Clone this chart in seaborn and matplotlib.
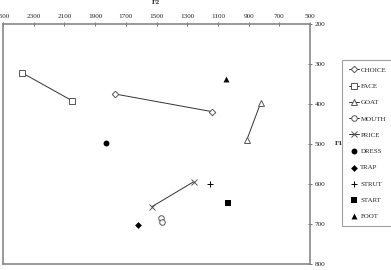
import matplotlib
matplotlib.use("Agg")
import matplotlib.pyplot as plt
import seaborn as sns
import pandas as pd

sns.set_theme(style="white")
plt.rcParams['font.family'] = ['Liberation Serif', 'DejaVu Serif']

# Diphthongs: (F2 start, F2 end), (F1 start, F1 end)
diph_names = ["CHOICE", "FACE", "GOAT", "MOUTH", "PRICE"]
diph_f2 = [[1770, 1140], [2376, 2049], [821, 912], [1471, 1462], [1531, 1256]]
diph_f1 = [[375, 419], [322, 392], [397, 490], [686, 696], [657, 594]]

mono_names = ["DRESS", "TRAP", "STRUT", "START", "FOOT"]
mono_f2 = [1831, 1623, 1151, 1032, 1045]
mono_f1 = [498, 702, 601, 647, 338]

f2_ticks = [2500, 2300, 2100, 1900, 1700, 1500, 1300, 1100, 900, 700, 500]
f1_ticks = [200, 300, 400, 500, 600, 700, 800]

diph_markers = ["D", "s", "^", "o", "x"]
mono_markers = ["o", "D", "+", "s", "^"]
mono_sizes = [18, 12, 24, 18, 18]

fig = plt.figure(figsize=(3.91, 2.70), dpi=100)
ax = fig.add_axes([3/391, 1-264/270, 307/391, 240/270])

gray = "#555555"
for name, xs, ys, m in zip(diph_names, diph_f2, diph_f1, diph_markers):
    df = pd.DataFrame({"F2": xs, "F1": ys})
    sns.lineplot(data=df, x="F2", y="F1", sort=False, ax=ax, color="#333333",
                 linewidth=0.7, marker=m, markersize=4 if m != "D" else 3.3,
                 markerfacecolor="white" if m != "x" else gray,
                 markeredgecolor=gray, markeredgewidth=0.7, label=name)

for name, x, y, m, s in zip(mono_names, mono_f2, mono_f1, mono_markers, mono_sizes):
    df = pd.DataFrame({"F2": [x], "F1": [y]})
    sns.scatterplot(data=df, x="F2", y="F1", ax=ax, marker=m, s=s,
                    color="black", linewidth=0.7 if m == "+" else 0,
                    edgecolor="black", label=name)

ax.set_xlim(2500, 500)
ax.set_ylim(800, 200)
ax.set_xticks(f2_ticks)
ax.set_yticks(f1_ticks)
ax.xaxis.tick_top()
ax.yaxis.tick_right()
ax.tick_params(axis="both", labelsize=5.2, length=3, width=0.6,
               direction="inout", color=gray, pad=2)
ax.set_xlabel("")
ax.set_ylabel("")
for sp in ax.spines.values():
    sp.set_color("#888888")
    sp.set_linewidth(1.2)

fig.text(156/391, 1.0, "F2", ha="center", va="top",
         fontsize=5.2, fontweight="bold")
ax.text(1.08, 500, "F1", transform=ax.get_yaxis_transform(), ha="left",
        va="center", fontsize=5.2, fontweight="bold")

leg = ax.legend(loc="upper left", bbox_to_anchor=(339/307, 1 - 36/240),
                fontsize=5.0, frameon=True, fancybox=False, edgecolor="#888888",
                handlelength=1.4, handletextpad=0.25, labelspacing=1.5,
                borderpad=1.0, borderaxespad=0)
leg.get_frame().set_linewidth(0.8)

fig.savefig("out.png", dpi=100)
